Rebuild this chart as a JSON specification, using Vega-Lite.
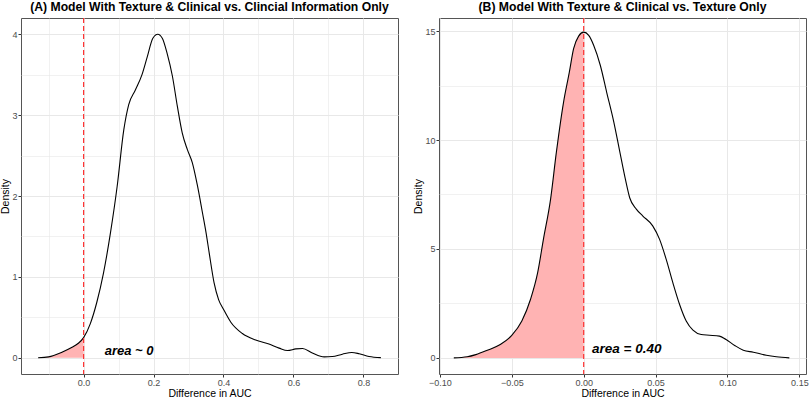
{
  "$schema": "https://vega.github.io/schema/vega-lite/v6.json",
  "padding": {"left": 0, "top": 0, "right": 5, "bottom": 1},
  "spacing": 14,
  "background": "white",
  "config": {
    "font": "Liberation Sans",
    "view": {"stroke": "#555555", "strokeWidth": 1},
    "axis": {
      "labelFont": "Liberation Sans", "labelFontSize": 9, "labelColor": "#4d4d4d",
      "tickColor": "#333333", "tickSize": 3, "labelPadding": 1,
      "titleFont": "Liberation Sans", "titleFontSize": 10.5, "titleFontWeight": "normal", "titleColor": "#000000",
      "domain": false, "grid": true, "gridColor": "#e8e8e8",
      "labelFlush": false, "labelOverlap": false, "labelBound": false, "titlePadding": 1
    },
    "title": {"font": "Liberation Sans", "fontSize": 12.2, "fontWeight": "bold", "color": "#000000", "anchor": "middle", "frame": "group", "offset": 4}
  },
  "datasets": {
    "a": [
      {"x": -0.13, "density": 0}, {"x": -0.10, "density": 0.012}, {"x": -0.062, "density": 0.07},
      {"x": -0.033, "density": 0.13}, {"x": -0.015, "density": 0.18}, {"x": 0, "density": 0.25},
      {"x": 0.019, "density": 0.42}, {"x": 0.038, "density": 0.69}, {"x": 0.057, "density": 1.05},
      {"x": 0.077, "density": 1.55}, {"x": 0.096, "density": 2.12}, {"x": 0.115, "density": 2.82},
      {"x": 0.129, "density": 3.13}, {"x": 0.148, "density": 3.31}, {"x": 0.167, "density": 3.5},
      {"x": 0.182, "density": 3.72}, {"x": 0.198, "density": 3.95}, {"x": 0.212, "density": 4.0},
      {"x": 0.225, "density": 3.95}, {"x": 0.239, "density": 3.76}, {"x": 0.254, "density": 3.48},
      {"x": 0.268, "density": 3.11}, {"x": 0.282, "density": 2.78}, {"x": 0.297, "density": 2.57},
      {"x": 0.311, "density": 2.41}, {"x": 0.325, "density": 2.14}, {"x": 0.34, "density": 1.79},
      {"x": 0.35, "density": 1.55}, {"x": 0.359, "density": 1.3}, {"x": 0.373, "density": 0.93},
      {"x": 0.386, "density": 0.72}, {"x": 0.4, "density": 0.6}, {"x": 0.421, "density": 0.44},
      {"x": 0.454, "density": 0.3}, {"x": 0.492, "density": 0.22}, {"x": 0.53, "density": 0.17},
      {"x": 0.559, "density": 0.12}, {"x": 0.583, "density": 0.09}, {"x": 0.607, "density": 0.11},
      {"x": 0.626, "density": 0.115}, {"x": 0.654, "density": 0.06}, {"x": 0.688, "density": 0.012},
      {"x": 0.711, "density": 0.016}, {"x": 0.74, "density": 0.045}, {"x": 0.767, "density": 0.066},
      {"x": 0.788, "density": 0.05}, {"x": 0.816, "density": 0.016}, {"x": 0.85, "density": 0.002}
    ],
    "b": [
      {"x": -0.0903, "density": 0}, {"x": -0.081, "density": 0.05}, {"x": -0.075, "density": 0.15},
      {"x": -0.067, "density": 0.35}, {"x": -0.058, "density": 0.61}, {"x": -0.05, "density": 1.03},
      {"x": -0.043, "density": 1.69}, {"x": -0.037, "density": 2.68}, {"x": -0.032, "density": 3.91},
      {"x": -0.028, "density": 5.44}, {"x": -0.023, "density": 7.29}, {"x": -0.019, "density": 9.43},
      {"x": -0.014, "density": 11.73}, {"x": -0.01, "density": 13.1}, {"x": -0.007, "density": 14.19},
      {"x": -0.0035, "density": 14.77}, {"x": 0, "density": 14.95}, {"x": 0.0035, "density": 14.8},
      {"x": 0.007, "density": 14.34}, {"x": 0.0116, "density": 13.42}, {"x": 0.016, "density": 12.19},
      {"x": 0.021, "density": 10.81}, {"x": 0.025, "density": 9.5}, {"x": 0.029, "density": 8.2},
      {"x": 0.032, "density": 7.35}, {"x": 0.0366, "density": 6.83}, {"x": 0.041, "density": 6.52},
      {"x": 0.048, "density": 6.06}, {"x": 0.0528, "density": 5.44}, {"x": 0.0574, "density": 4.52},
      {"x": 0.062, "density": 3.45}, {"x": 0.0667, "density": 2.45}, {"x": 0.0713, "density": 1.69},
      {"x": 0.076, "density": 1.27}, {"x": 0.0817, "density": 1.07}, {"x": 0.0875, "density": 1.04},
      {"x": 0.0944, "density": 1.0}, {"x": 0.099, "density": 0.84}, {"x": 0.105, "density": 0.57},
      {"x": 0.111, "density": 0.35}, {"x": 0.118, "density": 0.26}, {"x": 0.127, "density": 0.12},
      {"x": 0.134, "density": 0.05}, {"x": 0.143, "density": 0}
    ],
    "cut": [{"threshold": 0}],
    "labelA": [{"label": "area ~ 0"}],
    "labelB": [{"label": "area = 0.40"}]
  },
  "hconcat": [
    {
      "title": "(A) Model With Texture & Clinical vs. Clincial Information Only",
      "width": 377,
      "height": 356,
      "layer": [
        {
          "data": {"name": "a"},
          "transform": [{"filter": "datum.x <= 0"}],
          "mark": {"type": "area", "color": "#ffb3b3", "opacity": 1, "interpolate": "monotone"},
          "encoding": {
            "x": {"field": "x", "type": "quantitative"},
            "y": {"field": "density", "type": "quantitative"},
            "y2": {"datum": 0}
          }
        },
        {
          "data": {"name": "a"},
          "mark": {"type": "line", "color": "#000000", "strokeWidth": 1.1, "interpolate": "monotone"},
          "encoding": {
            "x": {"field": "x", "type": "quantitative",
              "scale": {"domain": [-0.179, 0.899], "nice": false, "zero": false},
              "axis": {"title": "Difference in AUC",
                "values": [-0.1, 0, 0.1, 0.2, 0.3, 0.4, 0.5, 0.6, 0.7, 0.8],
                "labelExpr": "abs(round(datum.value*10))%2==1 ? '' : format(datum.value, '.1f')",
                "tickOpacity": {"condition": {"test": "abs(round(datum.value*10))%2==1", "value": 0}, "value": 1},
                "gridWidth": {"condition": {"test": "abs(round(datum.value*10))%2==1", "value": 0.6}, "value": 1}}},
            "y": {"field": "density", "type": "quantitative",
              "scale": {"domain": [-0.2, 4.2], "nice": false, "zero": false},
              "axis": {"title": "Density",
                "values": [0, 0.5, 1, 1.5, 2, 2.5, 3, 3.5, 4],
                "labelExpr": "datum.value != round(datum.value) ? '' : format(datum.value, 'd')",
                "tickOpacity": {"condition": {"test": "datum.value != round(datum.value)", "value": 0}, "value": 1},
                "gridWidth": {"condition": {"test": "datum.value != round(datum.value)", "value": 0.6}, "value": 1}}}
          }
        },
        {
          "data": {"name": "cut"},
          "mark": {"type": "rule", "color": "#ff3333", "strokeDash": [5, 3], "strokeWidth": 1.2},
          "encoding": {"x": {"field": "threshold", "type": "quantitative"}}
        },
        {
          "data": {"name": "labelA"},
          "mark": {"type": "text", "font": "Liberation Sans", "fontStyle": "italic", "fontWeight": "bold", "fontSize": 13, "align": "center", "baseline": "middle", "color": "#000000"},
          "encoding": {"x": {"datum": 0.13}, "y": {"datum": 0.086}, "text": {"field": "label", "type": "nominal"}}
        }
      ]
    },
    {
      "title": "(B) Model With Texture & Clinical vs. Texture Only",
      "width": 367,
      "height": 356,
      "layer": [
        {
          "data": {"name": "b"},
          "transform": [{"filter": "datum.x <= 0"}],
          "mark": {"type": "area", "color": "#ffb3b3", "opacity": 1, "interpolate": "monotone"},
          "encoding": {
            "x": {"field": "x", "type": "quantitative"},
            "y": {"field": "density", "type": "quantitative"},
            "y2": {"datum": 0}
          }
        },
        {
          "data": {"name": "b"},
          "mark": {"type": "line", "color": "#000000", "strokeWidth": 1.1, "interpolate": "monotone"},
          "encoding": {
            "x": {"field": "x", "type": "quantitative",
              "scale": {"domain": [-0.1006, 0.1546], "nice": false, "zero": false},
              "axis": {"title": "Difference in AUC",
                "values": [-0.1, -0.075, -0.05, -0.025, 0, 0.025, 0.05, 0.075, 0.1, 0.125, 0.15],
                "labelExpr": "round(datum.value*1000)%50!=0 ? '' : format(datum.value, '.2f')",
                "tickOpacity": {"condition": {"test": "round(datum.value*1000)%50!=0", "value": 0}, "value": 1},
                "gridWidth": {"condition": {"test": "round(datum.value*1000)%50!=0", "value": 0.6}, "value": 1}}},
            "y": {"field": "density", "type": "quantitative",
              "scale": {"domain": [-0.74, 15.6], "nice": false, "zero": false},
              "axis": {"title": "Density",
                "values": [0, 2.5, 5, 7.5, 10, 12.5, 15],
                "labelExpr": "datum.value != round(datum.value) ? '' : format(datum.value, 'd')",
                "tickOpacity": {"condition": {"test": "datum.value != round(datum.value)", "value": 0}, "value": 1},
                "gridWidth": {"condition": {"test": "datum.value != round(datum.value)", "value": 0.6}, "value": 1}}}
          }
        },
        {
          "data": {"name": "cut"},
          "mark": {"type": "rule", "color": "#ff3333", "strokeDash": [5, 3], "strokeWidth": 1.2},
          "encoding": {"x": {"field": "threshold", "type": "quantitative"}}
        },
        {
          "data": {"name": "labelB"},
          "mark": {"type": "text", "font": "Liberation Sans", "fontStyle": "italic", "fontWeight": "bold", "fontSize": 13.5, "align": "center", "baseline": "middle", "color": "#000000"},
          "encoding": {"x": {"datum": 0.03}, "y": {"datum": 0.41}, "text": {"field": "label", "type": "nominal"}}
        }
      ]
    }
  ]
}
